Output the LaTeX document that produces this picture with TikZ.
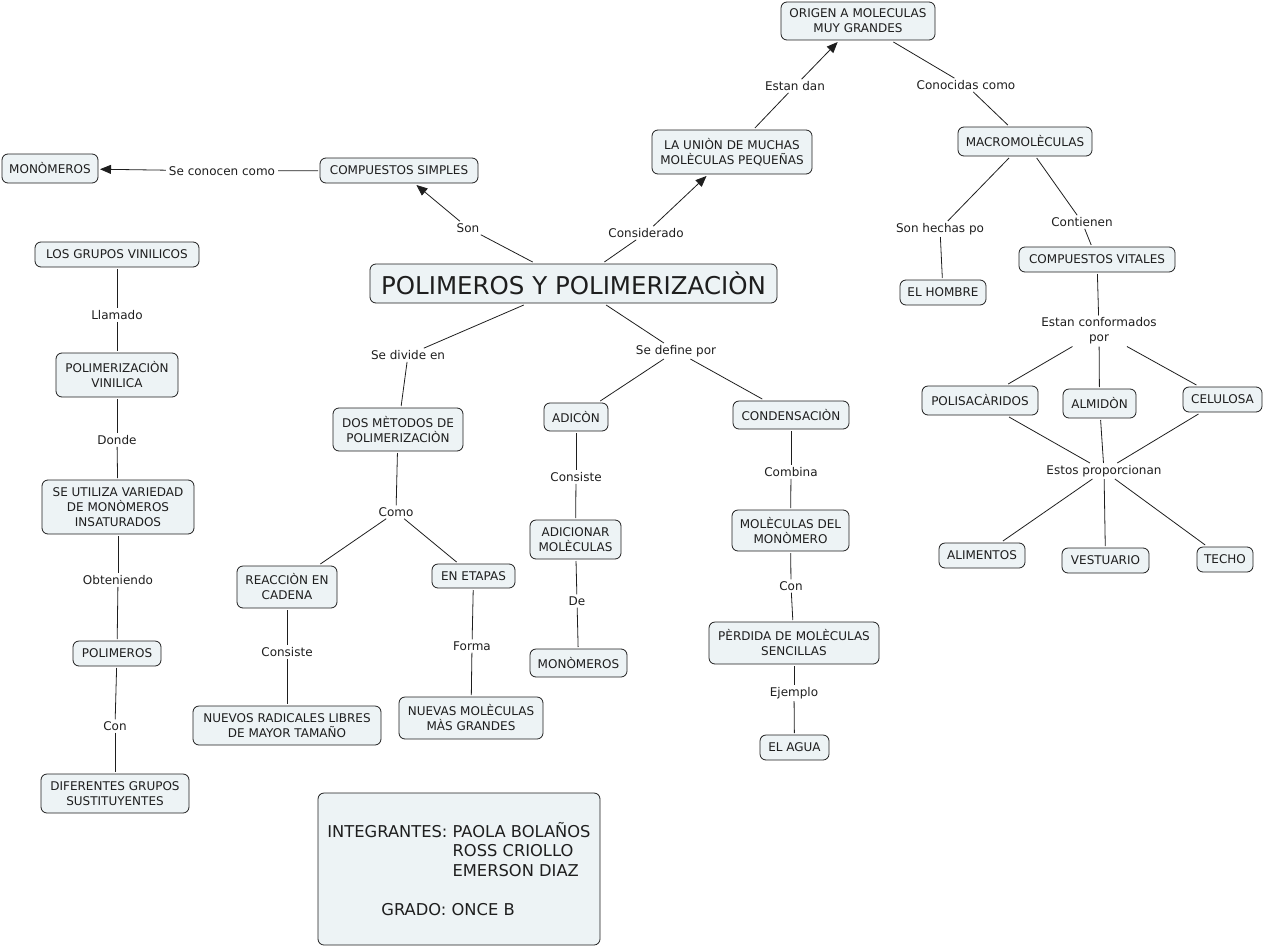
\documentclass[tikz,border=0pt]{standalone}
\usepackage{fontspec}
\setmainfont{DejaVu Sans}
\usetikzlibrary{arrows.meta}
\definecolor{boxfill}{RGB}{237,243,245}
\definecolor{ink}{RGB}{30,30,30}
\tikzset{
  concept/.style={draw=ink, fill=boxfill, rounded corners=6pt, align=center, text=ink,
    font=\fontsize{12}{15}\selectfont, inner sep=0pt, outer sep=2pt, line width=0.8pt},
  lab/.style={align=center, text=ink, font=\fontsize{12}{15}\selectfont, inner xsep=3pt, inner ysep=2pt},
  link/.style={draw=ink, line width=0.8pt},
  arr/.style={link, -{Triangle[length=11pt,width=9pt]}},
}
\begin{document}
\begin{tikzpicture}[x=1pt,y=-1pt]
\useasboundingbox (0,0) rectangle (1265,947);
% concepts
\node[concept, minimum width=154, minimum height=38] (origen) at (858,21) {ORIGEN A MOLECULAS\\MUY GRANDES};
\node[concept, minimum width=160, minimum height=44] (union) at (732,152) {LA UNIÒN DE MUCHAS\\MOLÈCULAS PEQUEÑAS};
\node[concept, minimum width=134, minimum height=29] (macro) at (1025,141.5) {MACROMOLÈCULAS};
\node[concept, minimum width=96, minimum height=29] (mono1) at (50,168.5) {MONÒMEROS};
\node[concept, minimum width=158, minimum height=25] (compsimp) at (399,170.5) {COMPUESTOS SIMPLES};
\node[concept, minimum width=164, minimum height=25] (grupos) at (117,254.5) {LOS GRUPOS VINILICOS};
\node[concept, minimum width=407, minimum height=39, font=\fontsize{24.5}{28}\selectfont] (poly) at (573.5,283.5) {POLIMEROS Y POLIMERIZACIÒN};
\node[concept, minimum width=86, minimum height=25] (hombre) at (943,292.5) {EL HOMBRE};
\node[concept, minimum width=156, minimum height=25] (compvit) at (1097,259.5) {COMPUESTOS VITALES};
\node[concept, minimum width=122, minimum height=44] (polivin) at (117,375) {POLIMERIZACIÒN\\VINILICA};
\node[concept, minimum width=130, minimum height=43] (dosmet) at (398,429.5) {DOS MÈTODOS DE\\POLIMERIZACIÒN};
\node[concept, minimum width=64, minimum height=28] (adicon) at (576,417) {ADICÒN};
\node[concept, minimum width=116, minimum height=28] (conden) at (791,415) {CONDENSACIÒN};
\node[concept, minimum width=116, minimum height=29] (polisac) at (980,400.5) {POLISACÀRIDOS};
\node[concept, minimum width=73, minimum height=29] (almidon) at (1099.5,403.5) {ALMIDÒN};
\node[concept, minimum width=79, minimum height=25] (celulosa) at (1222.5,399.5) {CELULOSA};
\node[concept, minimum width=152, minimum height=54] (seutiliza) at (118,507) {SE UTILIZA VARIEDAD\\DE MONÒMEROS\\INSATURADOS};
\node[concept, minimum width=91, minimum height=39] (adicionar) at (575.5,539.5) {ADICIONAR\\MOLÈCULAS};
\node[concept, minimum width=117, minimum height=41] (molecdel) at (790.5,530.5) {MOLÈCULAS DEL\\MONÒMERO};
\node[concept, minimum width=100, minimum height=42] (reaccion) at (287,587) {REACCIÒN EN\\CADENA};
\node[concept, minimum width=83, minimum height=24] (etapas) at (473.5,576) {EN ETAPAS};
\node[concept, minimum width=86, minimum height=25] (alimentos) at (982,555.5) {ALIMENTOS};
\node[concept, minimum width=87, minimum height=25] (vestuario) at (1105.5,560.5) {VESTUARIO};
\node[concept, minimum width=56, minimum height=25] (techo) at (1225,559.5) {TECHO};
\node[concept, minimum width=88, minimum height=25] (polimeros) at (117,653.5) {POLIMEROS};
\node[concept, minimum width=97, minimum height=28] (mono2) at (578.5,663) {MONÒMEROS};
\node[concept, minimum width=170, minimum height=42] (perdida) at (794,643) {PÈRDIDA DE MOLÈCULAS\\SENCILLAS};
\node[concept, minimum width=188, minimum height=39] (nuevosrad) at (287,725.5) {NUEVOS RADICALES LIBRES\\DE MAYOR TAMAÑO};
\node[concept, minimum width=144, minimum height=42] (nuevasmol) at (471,718) {NUEVAS MOLÈCULAS\\MÀS GRANDES};
\node[concept, minimum width=69, minimum height=25] (agua) at (794.5,747.5) {EL AGUA};
\node[concept, minimum width=148, minimum height=39] (diferentes) at (115,793.5) {DIFERENTES GRUPOS\\SUSTITUYENTES};
\node[concept, minimum width=282, minimum height=152, align=left, font=\fontsize{16.3}{19.5}\selectfont] (integ) at (459,869)
  {INTEGRANTES: PAOLA BOLAÑOS\\\hphantom{INTEGRANTES: }ROSS CRIOLLO\\\hphantom{INTEGRANTES: }EMERSON DIAZ\\[19.5pt]\hspace*{54pt}GRADO: ONCE B};
% linking phrases
\node[lab] (estandan) at (795,86) {Estan dan};
\node[lab] (conocidas) at (966,85) {Conocidas como};
\node[lab] (seconocen) at (222,171) {Se conocen como};
\node[lab] (son) at (468,228) {Son};
\node[lab] (considerado) at (646,233) {Considerado};
\node[lab] (sedivide) at (408,355) {Se divide en};
\node[lab] (sedefine) at (676,351) {Se define por};
\node[lab] (llamado) at (117,315) {Llamado};
\node[lab] (donde) at (117,440) {Donde};
\node[lab] (obteniendo) at (118,580) {Obteniendo};
\node[lab] (con1) at (115,726) {Con};
\node[lab] (como) at (396,512) {Como};
\node[lab] (consiste1) at (287,652) {Consiste};
\node[lab] (forma) at (472,646) {Forma};
\node[lab] (consiste2) at (576,477) {Consiste};
\node[lab] (de) at (577,601) {De};
\node[lab] (combina) at (791,472) {Combina};
\node[lab] (con2) at (791,586) {Con};
\node[lab] (ejemplo) at (794,693) {Ejemplo};
\node[lab] (sonhechas) at (940,229) {Son hechas po};
\node[lab] (contienen) at (1082,222) {Contienen};
\node[lab] (conformados) at (1099,331) {Estan conformados\\por};
\node[lab] (proporcionan) at (1104,471) {Estos proporcionan};
% connectors
\draw[link] (union) -- (estandan);
\draw[arr] (estandan) -- (origen);
\draw[link] (origen) -- (conocidas);
\draw[link] (conocidas) -- (macro);
\draw[link] (compsimp) -- (seconocen);
\draw[arr] (seconocen) -- (mono1);
\draw[link] (poly) -- (son);
\draw[arr] (son) -- (compsimp);
\draw[link] (poly) -- (considerado);
\draw[arr] (considerado) -- (union);
\draw[link] (poly) -- (sedivide);
\draw[link] (sedivide) -- (dosmet);
\draw[link] (poly) -- (sedefine);
\draw[link] (sedefine) -- (adicon);
\draw[link] (sedefine) -- (conden);
\draw[link] (grupos) -- (llamado);
\draw[link] (llamado) -- (polivin);
\draw[link] (polivin) -- (donde);
\draw[link] (donde) -- (seutiliza);
\draw[link] (seutiliza) -- (obteniendo);
\draw[link] (obteniendo) -- (polimeros);
\draw[link] (polimeros) -- (con1);
\draw[link] (con1) -- (diferentes);
\draw[link] (dosmet) -- (como);
\draw[link] (como) -- (reaccion);
\draw[link] (como) -- (etapas);
\draw[link] (reaccion) -- (consiste1);
\draw[link] (consiste1) -- (nuevosrad);
\draw[link] (etapas) -- (forma);
\draw[link] (forma) -- (nuevasmol);
\draw[link] (adicon) -- (consiste2);
\draw[link] (consiste2) -- (adicionar);
\draw[link] (adicionar) -- (de);
\draw[link] (de) -- (mono2);
\draw[link] (conden) -- (combina);
\draw[link] (combina) -- (molecdel);
\draw[link] (molecdel) -- (con2);
\draw[link] (con2) -- (perdida);
\draw[link] (perdida) -- (ejemplo);
\draw[link] (ejemplo) -- (agua);
\draw[link] (macro) -- (sonhechas);
\draw[link] (sonhechas) -- (hombre);
\draw[link] (macro) -- (contienen);
\draw[link] (contienen) -- (compvit);
\draw[link] (compvit) -- (conformados);
\draw[link] (conformados) -- (polisac);
\draw[link] (conformados) -- (almidon);
\draw[link] (conformados) -- (celulosa);
\draw[link] (polisac) -- (proporcionan);
\draw[link] (almidon) -- (proporcionan);
\draw[link] (celulosa) -- (proporcionan);
\draw[link] (proporcionan) -- (alimentos);
\draw[link] (proporcionan) -- (vestuario);
\draw[link] (proporcionan) -- (techo);
\end{tikzpicture}
\end{document}
